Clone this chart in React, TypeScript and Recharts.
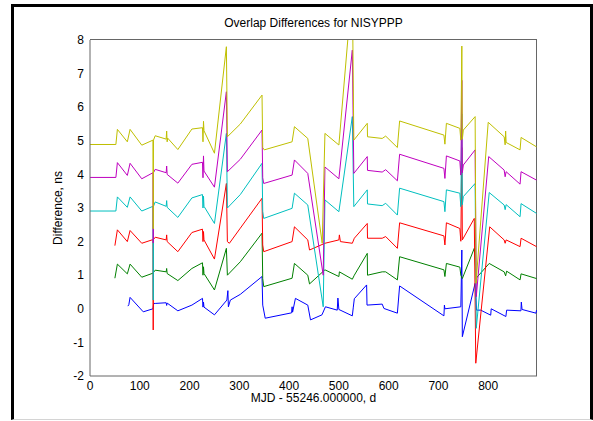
import { Line, LineChart, XAxis, YAxis } from 'recharts'

// MJD offset (days) and difference (ns)
const xTicks = [0, 100, 200, 300, 400, 500, 600, 700, 800]
const yTicks = [-2, -1, 0, 1, 2, 3, 4, 5, 6, 7, 8]
const xMax = 898

const blue: [number, number][] = [
  [76, 0.08], [78, 0.12], [80.5, 0.34], [107, -0.09], [126.5, 0.0], [128, 0.16], [131, 0.16],
  [153, 0.18], [154, 0.1], [155, 0.17], [176.5, -0.06], [204.7, 0.11], [226, 0.31], [227, 0.05],
  [228, 0.2], [229, 0.05], [250, -0.18], [275, 0.26], [277, 0.54], [278, 0.06], [282, 0.26],
  [302, 0.43], [345.6, 0.96], [347, 0.11], [352, -0.28], [405, -0.12], [406, 0.06], [407, -0.1],
  [412.7, 0.31], [437.5, 0.11], [443, -0.33], [466, -0.18], [473, 0.06], [496.7, -0.04],
  [498, 0.32], [500, -0.02], [527, -0.21], [529, 0.05], [531, 0.3], [555.7, 0.71], [556.5, 0.11],
  [587, 0.14], [590.5, 0.01], [617.5, -0.13], [622, 0.68], [711, -0.21], [712, 0.11], [713, 0.0],
  [745, 0.06], [747, 1.75], [748, -0.83], [773.7, 0.76], [776.5, -0.04], [785, -0.04],
  [805, -0.19], [806, 0.0], [835.5, -0.23], [837, -0.04], [865.7, -0.06], [866.5, 0.2],
  [868, -0.02], [896, -0.13], [897, -0.04],
]

const green: [number, number][] = [
  [50, 0.91], [55, 1.33], [75, 1.04], [80.5, 1.33], [104, 0.94], [126.5, 1.06], [131, 1.15],
  [153, 1.1], [154, 1.2], [155, 1.05], [176.5, 0.84], [204.7, 1.2], [226, 1.37], [227, 1.0],
  [228, 1.25], [229, 1.05], [250, 0.56], [274, 1.8], [276, 1.0], [302, 1.4], [345.6, 2.25],
  [347, 0.9], [349, 0.66], [406, 0.91], [410.7, 1.35], [437.5, 1.0], [441, 0.74], [472, 1.16],
  [500, 0.96], [501, 1.1], [527, 0.88], [531, 1.0], [557, 1.65], [557.5, 1.0], [587, 1.1],
  [594, 1.1], [617.5, 0.86], [622, 1.55], [711, 1.16], [713, 0.96], [716, 1.35], [743, 1.24],
  [745, 1.0], [748, 0.9], [772, 1.8], [776, 0.9], [778, 0.95], [802, 1.35], [832, 1.1],
  [835, 0.98], [837, 1.12], [864, 0.86], [866, 1.04], [897, 0.9],
]

const red: [number, number][] = [
  [50, 1.88], [55, 2.35], [75, 2.0], [80.5, 2.33], [104, 1.95], [126.5, 2.06], [127, -0.63],
  [127.5, 2.06], [131, 2.13], [153, 2.05], [154, 2.2], [155, 2.0], [176.5, 1.7], [204.7, 2.27],
  [226, 2.37], [227, 2.0], [228, 2.3], [229, 2.05], [250, 1.48], [274, 3.73], [276, 2.0],
  [280, 1.95], [302, 2.4], [345.6, 3.29], [347, 1.9], [349, 1.7], [406, 2.0], [410.7, 2.44],
  [437.5, 2.05], [441, 1.75], [472, 1.95], [500, 2.05], [501, 2.2], [503, 2.0], [527, 1.95],
  [531, 2.1], [557, 2.54], [557.5, 2.1], [587, 2.1], [594, 2.15], [617.5, 1.8], [622, 2.56],
  [711, 2.17], [713, 1.9], [716, 2.56], [743, 2.39], [745, 2.01], [747, 4.8], [748, 2.05],
  [772, 2.69], [775, -1.62], [803, 2.44], [832, 2.05], [834, 1.95], [836, 2.05], [864, 1.85],
  [866, 2.1], [897, 1.85],
]

const cyan: [number, number][] = [
  [0, 2.91], [52, 2.91], [55, 3.33], [75, 3.02], [80.5, 3.33], [104, 2.91], [126.5, 3.05],
  [127, 0.26], [127.5, 3.05], [131, 3.18], [153, 3.05], [154, 3.22], [155, 3.02], [176.5, 2.72],
  [204.7, 3.3], [226, 3.4], [227, 3.0], [228, 3.35], [229, 3.05], [250, 2.54], [274, 5.22],
  [276, 3.0], [302, 3.4], [345.6, 4.33], [347, 2.9], [349, 2.69], [406, 2.99], [410.7, 3.44],
  [437.5, 3.09], [468.5, 0.06], [472, 3.24], [500, 2.89], [527, 5.72], [530, 3.04], [557, 3.54],
  [557.5, 3.12], [587, 3.07], [594, 3.14], [617.5, 2.79], [622, 3.59], [711, 3.19], [713, 2.89],
  [716, 3.54], [743, 3.44], [745, 3.04], [747, 5.8], [748, 3.1], [750, 3.34], [773.7, 3.73],
  [776, -0.58], [802, 3.46], [832, 3.09], [834, 2.95], [836, 3.1], [864, 2.74], [866, 3.13],
  [897, 2.84],
]

const magenta: [number, number][] = [
  [0, 3.91], [52, 3.91], [55, 4.35], [75, 3.97], [80.5, 4.33], [104, 3.87], [126.5, 4.05],
  [127, 1.96], [127.5, 4.05], [131, 4.15], [153, 4.05], [154, 4.25], [155, 4.0], [176.5, 3.74],
  [204.7, 4.3], [226, 4.36], [227, 3.9], [228, 4.55], [229, 4.1], [250, 3.62], [274, 6.46],
  [276, 4.08], [302, 4.45], [345.6, 5.32], [347, 3.9], [349, 3.73], [406, 3.98], [410.7, 4.43],
  [437.5, 4.03], [468.5, 1.0], [472, 4.22], [500, 3.87], [527, 7.7], [530, 4.03], [557, 4.53],
  [557.5, 4.12], [587, 4.07], [594, 4.14], [617.5, 3.81], [622, 4.6], [711, 4.18], [713, 3.88],
  [716, 4.55], [743, 4.4], [745, 3.98], [747, 6.8], [748, 4.05], [750, 4.28], [773.7, 4.73],
  [776, 0.36], [801, 4.53], [832, 4.13], [834, 3.93], [836, 4.08], [864, 3.71], [866, 4.08],
  [897, 3.83],
]

const yellow: [number, number][] = [
  [0, 4.89], [52, 4.89], [55, 5.34], [75, 4.97], [80.5, 5.34], [104, 4.87], [126.5, 5.02],
  [127, 2.38], [127.5, 5.02], [131, 5.15], [153, 5.05], [154, 5.29], [155, 4.97], [156, 5.08],
  [176.5, 4.74], [204.7, 5.35], [226, 5.39], [227, 4.97], [228, 5.58], [229, 5.3], [250, 4.63],
  [274, 7.8], [276, 5.12], [302, 5.5], [345.6, 6.36], [347, 4.8], [350, 4.73], [406, 4.97],
  [410.7, 5.42], [437.5, 5.07], [466.5, 1.95], [472, 5.22], [500, 4.875], [527, 9.6], [530, 5.02],
  [557, 5.52], [557.5, 5.12], [587, 5.07], [594, 5.14], [617.5, 4.8], [622, 5.59], [711, 5.17],
  [713, 4.9], [716, 5.52], [743, 5.37], [745, 5.02], [747, 7.82], [748, 5.05], [750, 5.32],
  [773.7, 5.72], [775.5, 0.76], [800, 5.55], [832, 5.12], [834, 4.88], [835, 5.29], [836, 4.95],
  [864, 4.73], [866, 5.1], [897, 4.82],
]

// matlab default colour order, drawn in this order (yellow ends up on top)
const series = [
  { name: 'blue', color: '#0000ff', points: blue },
  { name: 'green', color: '#008000', points: green },
  { name: 'red', color: '#ff0000', points: red },
  { name: 'cyan', color: '#00bfbf', points: cyan },
  { name: 'magenta', color: '#bf00bf', points: magenta },
  { name: 'yellow', color: '#bfbf00', points: yellow },
]

const toRows = (pts: [number, number][]) => pts.map(([d, v]) => ({ d, v }))

const font = '"Liberation Sans", Arial, sans-serif'
const axisGrey = '#666'

// plot box in the 593x421 figure
const W = 593
const H = 421
const plot = { left: 90, top: 40, right: 537, bottom: 376 }

export default function App() {
  return (
    <div
      style={{
        position: 'absolute',
        left: 0,
        top: 0,
        width: W,
        height: H,
        background: '#fff',
        fontFamily: font,
      }}
    >
      {/* window frame around the figure */}
      <div
        style={{
          position: 'absolute',
          left: 11,
          top: 4,
          width: 576,
          height: 412,
          borderTop: '3px solid #000',
          borderLeft: '3px solid #000',
          borderRight: '3px solid #000',
          borderBottom: '1px solid #d4d4d4',
        }}
      />
      {/* top and right edges of the axes box */}
      <div
        style={{
          position: 'absolute',
          left: plot.left,
          top: plot.top - 1,
          width: plot.right - plot.left - 1,
          height: plot.bottom - plot.top,
          borderTop: `1px solid ${axisGrey}`,
          borderRight: `1px solid ${axisGrey}`,
        }}
      />
      <div
        style={{
          position: 'absolute',
          left: plot.left,
          width: plot.right - plot.left,
          top: 16,
          textAlign: 'center',
          fontSize: 12,
          color: '#000',
        }}
      >
        Overlap Differences for NISYPPP
      </div>
      <LineChart
        width={W}
        height={H}
        margin={{ top: plot.top, right: W - plot.right, bottom: 0, left: plot.left - 40 }}
        style={{ position: 'absolute', left: 0, top: 0 }}
      >
        <XAxis
          xAxisId="b"
          dataKey="d"
          type="number"
          domain={[0, xMax]}
          ticks={xTicks}
          allowDataOverflow
          height={H - plot.bottom}
          tickLine={false}
          tickSize={0}
          tickMargin={5}
          stroke={axisGrey}
          tick={{ fill: '#000', fontSize: 12, fontFamily: font }}
          label={{
            value: 'MJD - 55246.000000, d',
            position: 'insideBottom',
            offset: 19,
            fill: '#000',
            fontSize: 12,
            fontFamily: font,
          }}
        />
        <YAxis
          yAxisId="l"
          dataKey="v"
          type="number"
          domain={[-2, 8]}
          ticks={yTicks}
          allowDataOverflow
          width={40}
          tickLine={false}
          tickSize={0}
          tickMargin={6}
          stroke={axisGrey}
          tick={{ fill: '#000', fontSize: 12, fontFamily: font }}
          label={{
            value: 'Difference, ns',
            angle: -90,
            position: 'insideLeft',
            offset: 8,
            fill: '#000',
            fontSize: 12,
            fontFamily: font,
            style: { textAnchor: 'middle' },
          }}
        />
        {/* mirrored tick-only axes give the inward matlab ticks on all four sides */}
        <XAxis
          xAxisId="bm"
          orientation="bottom"
          mirror
          dataKey="d"
          type="number"
          domain={[0, xMax]}
          ticks={xTicks}
          allowDataOverflow
          height={6}
          tickSize={5}
          tick={false}
          axisLine={false}
          stroke={axisGrey}
        />
        <XAxis
          xAxisId="tm"
          orientation="top"
          mirror
          dataKey="d"
          type="number"
          domain={[0, xMax]}
          ticks={xTicks}
          allowDataOverflow
          height={6}
          tickSize={5}
          tick={false}
          axisLine={false}
          stroke={axisGrey}
        />
        <YAxis
          yAxisId="lm"
          orientation="left"
          mirror
          dataKey="v"
          type="number"
          domain={[-2, 8]}
          ticks={yTicks}
          allowDataOverflow
          width={6}
          tickSize={5}
          tick={false}
          axisLine={false}
          stroke={axisGrey}
        />
        <YAxis
          yAxisId="rm"
          orientation="right"
          mirror
          dataKey="v"
          type="number"
          domain={[-2, 8]}
          ticks={yTicks}
          allowDataOverflow
          width={6}
          tickSize={5}
          tick={false}
          axisLine={false}
          stroke={axisGrey}
        />
        {/* invisible copies so the tick-only axes get a scale */}
        <Line
          xAxisId="bm"
          yAxisId="lm"
          data={toRows(blue)}
          dataKey="v"
          stroke="none"
          dot={false}
          activeDot={false}
          legendType="none"
          isAnimationActive={false}
        />
        <Line
          xAxisId="tm"
          yAxisId="rm"
          data={toRows(blue)}
          dataKey="v"
          stroke="none"
          dot={false}
          activeDot={false}
          legendType="none"
          isAnimationActive={false}
        />
        {series.map((s) => (
          <Line
            key={s.name}
            xAxisId="b"
            yAxisId="l"
            data={toRows(s.points)}
            dataKey="v"
            type="linear"
            stroke={s.color}
            strokeWidth={1}
            dot={false}
            activeDot={false}
            isAnimationActive={false}
          />
        ))}
      </LineChart>
    </div>
  )
}
